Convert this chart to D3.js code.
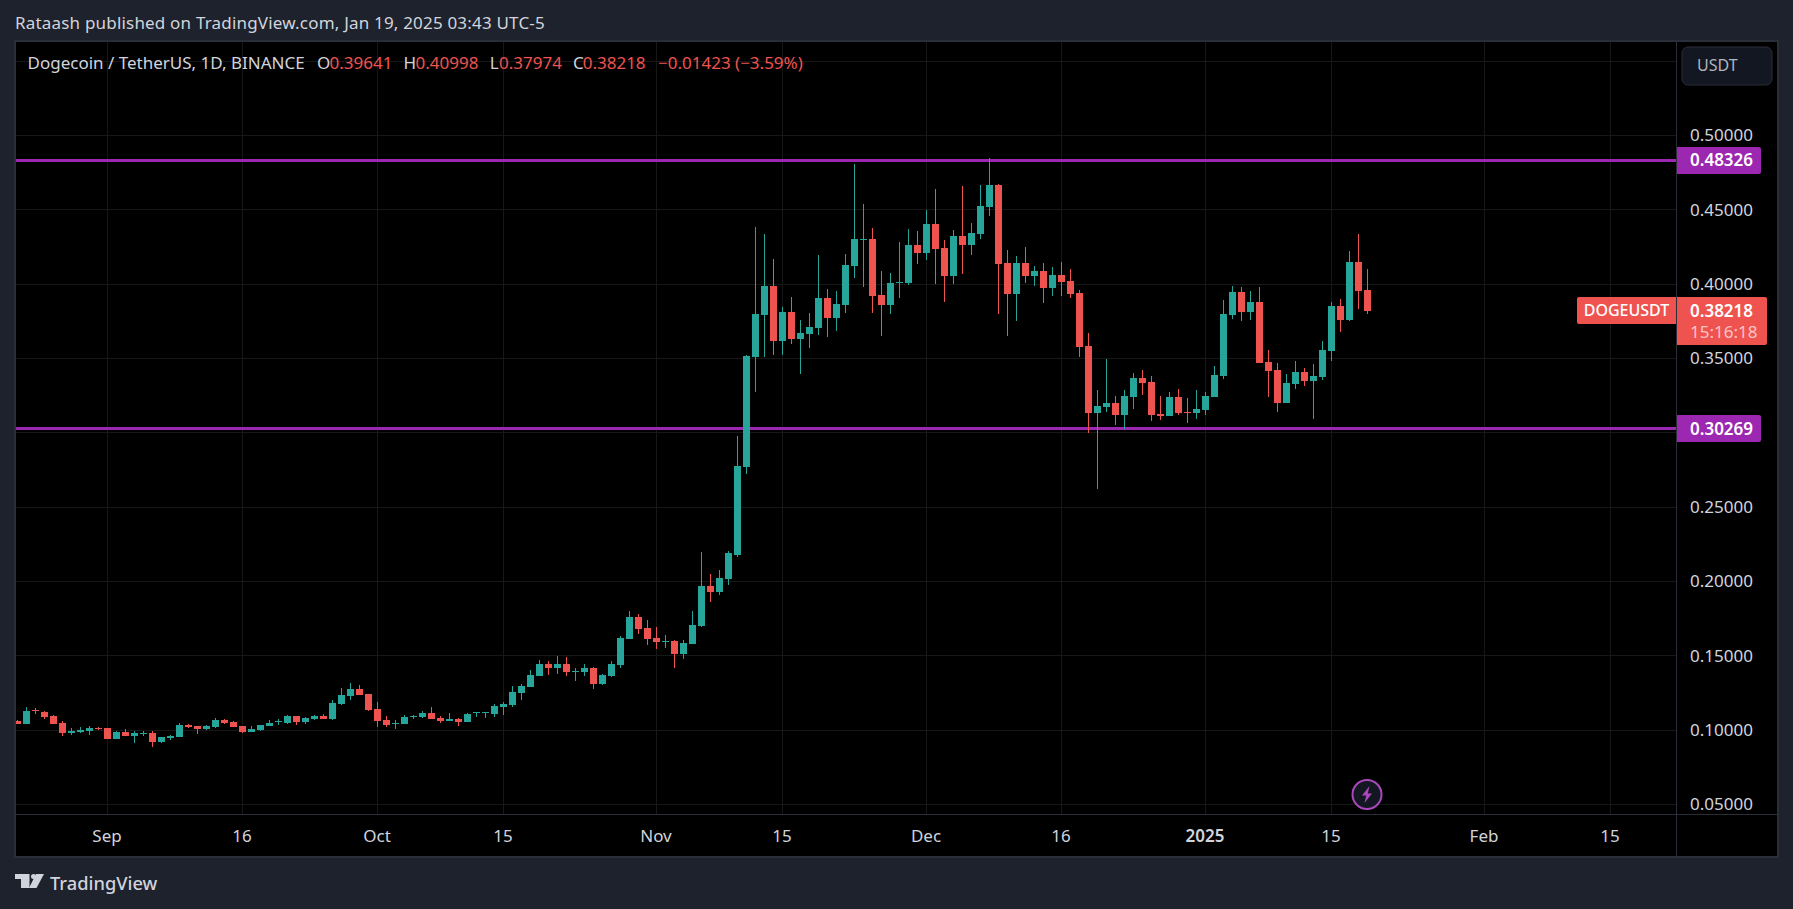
<!DOCTYPE html>
<html>
<head>
<meta charset="utf-8">
<style>
  html, body { margin: 0; padding: 0; background: #1e222d; overflow: hidden; }
  svg { display: block; }
  text { font-family: "Noto Sans", sans-serif; }
</style>
</head>
<body>
<script src="https://cdn.jsdelivr.net/npm/d3@7"></script>
<script>
// daily candles, Aug 22 2024 -> Jan 19 2025
var firstDay = new Date(Date.UTC(2024, 7, 22));
var opens = [.1063,.1043,.1134,.1123,.1096,.1049,.0982,.0989,.0996,.1016,.1016,.0942,.0989,.0962,.0978,.0982,.0922,.0948,.0955,.1036,
  .1029,.1009,.1022,.1069,.1056,.1029,.0989,.1002,.1029,.1052,.1050,.1097,.1056,.1077,.1097,.1077,.1178,.1232,.1279,.1245,
  .1144,.1070,.1045,.1043,.1090,.1090,.1117,.1083,.1063,.1077,.1056,.1115,.1113,.1110,.1158,.1171,.1253,.1293,.1367,.1442,
  .1415,.1442,.1394,.1394,.1421,.1313,.1367,.1435,.1610,.1759,.1685,.1617,.1590,.1597,.1509,.1577,.1698,.1968,.1928,.2015,
  .2179,.2773,.3509,.3793,.3989,.3618,.3813,.3631,.3665,.3705,.3908,.3773,.3860,.4124,.4299,.4306,.3928,.3860,.4009,.4009,
  .4266,.4212,.4407,.4245,.4056,.4326,.4266,.4340,.4522,.4664,.4144,.3935,.4144,.4056,.4090,.3975,.4063,.4023,.3942,.3584,
  .3132,.3172,.3199,.3118,.3240,.3368,.3341,.3125,.3111,.3240,.3138,.3132,.3152,.3240,.3381,.3793,.3948,.3813,.3881,.3476,
  .3422,.3199,.3327,.3408,.3348,.3375,.3550,.3854,.3759,.4151,.39641];
var highs = [.1069,.1157,.1150,.1130,.1103,.1063,.1016,.1022,.1029,.1022,.1016,.0996,.1009,.0996,.0996,.0996,.0955,.0969,.1049,.1043,
  .1029,.1036,.1083,.1076,.1063,.1029,.1029,.1036,.1070,.1077,.1104,.1097,.1090,.1104,.1110,.1205,.1286,.1320,.1306,.1245,
  .1191,.1097,.1070,.1104,.1104,.1131,.1158,.1097,.1117,.1083,.1117,.1124,.1124,.1178,.1191,.1300,.1313,.1408,.1469,.1462,
  .1502,.1489,.1415,.1442,.1428,.1381,.1462,.1631,.1799,.1779,.1739,.1691,.1637,.1604,.1604,.1799,.2198,.2049,.2076,.2204,
  .2982,.3522,.4387,.4340,.4171,.3847,.3915,.3759,.3807,.4198,.3969,.3955,.4205,.4806,.4536,.4380,.4090,.4077,.4286,.4374,
  .4360,.4502,.4637,.4299,.4367,.4657,.4414,.4664,.4846,.4677,.4232,.4191,.4252,.4124,.4144,.4117,.4151,.4104,.3962,.3672,
  .3287,.3496,.3246,.3287,.3402,.3422,.3381,.3246,.3273,.3294,.3233,.3287,.3273,.3449,.3894,.3989,.3982,.3955,.3982,.3557,
  .3469,.3395,.3483,.3435,.3462,.3618,.3881,.3901,.4225,.4340,.40998];
var lows = [.1043,.1043,.1110,.1076,.1043,.0964,.0969,.0982,.0969,.1002,.0942,.0942,.0962,.0915,.0962,.0888,.0915,.0935,.0955,.1016,
  .0975,.1002,.1016,.1043,.1022,.0982,.0989,.0996,.1029,.1036,.1043,.1036,.1043,.1070,.1077,.1070,.1171,.1205,.1239,.1131,
  .1023,.1023,.1009,.1043,.1077,.1083,.1077,.1050,.1063,.1029,.1056,.1090,.1083,.1090,.1104,.1158,.1205,.1293,.1367,.1374,
  .1381,.1367,.1334,.1367,.1280,.1307,.1360,.1415,.1610,.1644,.1570,.1543,.1556,.1421,.1482,.1577,.1691,.1860,.1907,.1975,
  .2165,.2726,.3272,.3510,.3523,.3523,.3597,.3395,.3570,.3658,.3645,.3685,.3807,.4043,.3982,.3807,.3651,.3800,.3908,.3996,
  .4137,.4164,.4002,.3881,.4002,.4070,.4198,.4306,.4461,.3800,.3651,.3753,.4009,.3989,.3874,.3921,.3921,.3908,.3510,.2997,
  .2619,.3138,.3050,.3024,.3158,.3253,.3078,.3084,.3111,.3118,.3064,.3091,.3118,.3240,.3361,.3766,.3753,.3759,.3469,.3240,
  .3138,.3199,.3294,.3314,.3091,.3354,.3483,.3678,.3753,.3834,.37974];
var closes = [.1043,.1130,.1128,.1090,.1043,.0982,.0996,.1002,.1016,.1009,.0942,.0989,.0962,.0982,.0982,.0922,.0955,.0962,.1036,.1022,
  .1009,.1029,.1069,.1049,.1022,.0989,.1009,.1036,.1050,.1059,.1097,.1056,.1083,.1097,.1077,.1185,.1239,.1279,.1239,.1137,
  .1063,.1036,.1050,.1090,.1097,.1117,.1077,.1063,.1077,.1056,.1110,.1121,.1119,.1164,.1178,.1259,.1300,.1374,.1442,.1415,
  .1442,.1394,.1401,.1421,.1313,.1374,.1442,.1617,.1759,.1678,.1610,.1590,.1597,.1509,.1583,.1705,.1968,.1928,.2022,.2191,
  .2780,.3515,.3800,.3989,.3618,.3813,.3631,.3672,.3712,.3908,.3773,.3867,.4131,.4306,.4306,.3921,.3860,.4009,.4016,.4266,
  .4212,.4407,.4239,.4056,.4326,.4266,.4347,.4529,.4664,.4137,.3935,.4144,.4056,.4090,.3975,.4063,.4016,.3935,.3577,.3132,
  .3179,.3199,.3118,.3246,.3368,.3334,.3118,.3111,.3240,.3132,.3132,.3158,.3246,.3388,.3800,.3948,.3813,.3881,.3469,.3415,
  .3199,.3334,.3408,.3348,.3381,.3557,.3854,.3759,.4151,.3955,.38218];

var priceGrid = [.05,.10,.15,.20,.25,.30,.35,.40,.45,.50,.55];
var priceLabels = [.05,.10,.15,.20,.25,.35,.40,.45,.50];
var timeTicks = [[2024,8,1],[2024,8,16],[2024,9,1],[2024,9,15],[2024,10,1],[2024,10,15],[2024,11,1],[2024,11,16],[2025,0,1],[2025,0,15],[2025,1,1],[2025,1,15]]
  .map(function (d) { return new Date(Date.UTC(d[0], d[1], d[2])); });
var timeLabels = ['Sep','16','Oct','15','Nov','15','Dec','16','2025','15','Feb','15'];
var levels = [0.48326, 0.30269];

var w = 1793, h = 909;
var left = 15, right = 1676, top_ = 41, axisY = 814, frameR = 1777, frameB = 856;
var green = '#26a69a', red = '#ef5350', purple = '#9c27b0', gridColor = '#171717', frameColor = '#2a2e39', labelColor = '#d1d4dc';

var svg = d3.select('body').append('svg').attr('width', w).attr('height', h);

var days = d3.range(opens.length).map(function (i) { return d3.utcDay.offset(firstDay, i); });

var xScale = d3.scaleUtc()
  .domain([timeTicks[0], timeTicks[11]])
  .range([107.5, 107.5 + 167 * 9]);
var yScale = d3.scaleLinear()
  .domain([.05, .5])
  .range([804.5, 135.5]);

function py(v) { return Math.round(yScale(v) - 0.5) + 0.5; }

// chart area
svg.append('rect').attr('x', left).attr('y', top_).attr('width', frameR - left).attr('height', frameB - top_)
  .attr('fill', '#000');

var crisp = svg.append('g').attr('shape-rendering', 'crispEdges');

// grid
crisp.selectAll('.hgrid').data(priceGrid).enter().append('line')
  .attr('class', 'hgrid')
  .attr('x1', left).attr('x2', right)
  .attr('y1', py).attr('y2', py)
  .attr('stroke', gridColor);
crisp.selectAll('.vgrid').data(timeTicks).enter().append('line')
  .attr('class', 'vgrid')
  .attr('x1', function (d) { return xScale(d); }).attr('x2', function (d) { return xScale(d); })
  .attr('y1', top_).attr('y2', axisY)
  .attr('stroke', gridColor);

svg.append('clipPath').attr('id', 'plot').append('rect')
  .attr('x', left + 1).attr('y', top_).attr('width', right - left - 1).attr('height', axisY - top_);

// level lines
crisp.selectAll('.level').data(levels).enter().append('rect')
  .attr('class', 'level')
  .attr('x', left).attr('width', right - left)
  .attr('y', function (d) { return Math.round(yScale(d) - 1.5); })
  .attr('height', 3)
  .attr('fill', purple);

// candles
var candles = crisp.append('g').attr('clip-path', 'url(#plot)')
  .selectAll('g').data(days).enter().append('g');

candles.append('rect')
  .attr('x', function (d) { return xScale(d) - 0.5; })
  .attr('width', 1)
  .attr('y', function (d, i) { return Math.round(yScale(highs[i])); })
  .attr('height', function (d, i) { return Math.max(1, Math.round(yScale(lows[i])) - Math.round(yScale(highs[i]))); })
  .attr('fill', function (d, i) { return closes[i] >= opens[i] ? green : red; });

candles.append('rect')
  .attr('x', function (d) { return xScale(d) - 3.5; })
  .attr('width', 7)
  .attr('y', function (d, i) { return Math.round(yScale(Math.max(opens[i], closes[i]))); })
  .attr('height', function (d, i) {
    return Math.max(1, Math.round(yScale(Math.min(opens[i], closes[i]))) - Math.round(yScale(Math.max(opens[i], closes[i]))));
  })
  .attr('fill', function (d, i) { return closes[i] >= opens[i] ? green : red; });

// frame + axis lines
crisp.append('rect').attr('x', left - 0.5).attr('y', top_ - 0.5).attr('width', frameR - left + 1).attr('height', frameB - top_ + 1)
  .attr('fill', 'none').attr('stroke', frameColor).attr('stroke-width', 2);
crisp.append('line').attr('x1', left).attr('x2', frameR).attr('y1', axisY + 0.5).attr('y2', axisY + 0.5).attr('stroke', frameColor);
crisp.append('line').attr('x1', right + 0.5).attr('x2', right + 0.5).attr('y1', top_).attr('y2', frameB).attr('stroke', frameColor);

// price axis
var yAxis = d3.axisRight(yScale).tickValues(priceLabels).tickFormat(d3.format('.5f')).tickSize(0).tickPadding(0);
svg.append('g').attr('transform', 'translate(1690,0)').call(yAxis)
  .call(function (g) { g.select('.domain').remove(); })
  .selectAll('text').attr('font-size', 17).attr('fill', labelColor).attr('font-family', '"Noto Sans", sans-serif');

// time axis
var xAxis = d3.axisBottom(xScale).tickValues(timeTicks)
  .tickFormat(function (d, i) { return timeLabels[i]; }).tickSize(0).tickPadding(0);
svg.append('g').attr('transform', 'translate(-1,830)').call(xAxis)
  .call(function (g) { g.select('.domain').remove(); })
  .selectAll('text').attr('font-size', 17).attr('fill', labelColor).attr('font-family', '"Noto Sans", sans-serif')
  .attr('font-weight', function (d, i) { return timeLabels[i] === '2025' ? 600 : 400; });

// price tags
function tag(x, y, tw, th, color, rx, leftRound) {
  var path = leftRound
    ? 'M' + (x + tw) + ' ' + y + 'H' + (x + rx) + 'Q' + x + ' ' + y + ' ' + x + ' ' + (y + rx) + 'V' + (y + th - rx) + 'Q' + x + ' ' + (y + th) + ' ' + (x + rx) + ' ' + (y + th) + 'H' + (x + tw) + 'Z'
    : 'M' + x + ' ' + y + 'H' + (x + tw - rx) + 'Q' + (x + tw) + ' ' + y + ' ' + (x + tw) + ' ' + (y + rx) + 'V' + (y + th - rx) + 'Q' + (x + tw) + ' ' + (y + th) + ' ' + (x + tw - rx) + ' ' + (y + th) + 'H' + x + 'Z';
  svg.append('path').attr('d', path).attr('fill', color);
}
function label(x, y, str, opts) {
  opts = opts || {};
  return svg.append('text').attr('x', x).attr('y', y).attr('dy', '.35em')
    .attr('font-size', opts.size || 17).attr('font-weight', opts.weight || 400)
    .attr('text-anchor', opts.anchor || 'start')
    .attr('fill', opts.fill || labelColor).text(str);
}

levels.forEach(function (v) {
  var cy = yScale(v);
  tag(1677, Math.round(cy - 13.5), 84, 27, purple, 2, false);
  label(1690, cy, d3.format('.5f')(v), { fill: '#fff', weight: 600 });
});

tag(1677, 297, 90, 48, red, 2, false);
label(1690, 311, '0.38218', { fill: '#fff', weight: 600 });
label(1690, 332, '15:16:18', { fill: '#fbc5c4', weight: 400 });
tag(1577, 297, 99, 27, red, 2, true);
label(1626.5, 310.5, 'DOGEUSDT', { fill: '#fff', anchor: 'middle', weight: 500, size: 16 });

// currency button
svg.append('rect').attr('x', 1682).attr('y', 47).attr('width', 90).attr('height', 38).attr('rx', 6)
  .attr('fill', '#131722').attr('stroke', frameColor).attr('stroke-width', 1);
label(1697, 65.5, 'USDT', { fill: '#b2b5be', size: 16 });

// header and legend
label(15, 23.5, 'Rataash published on TradingView.com, Jan 19, 2025 03:43 UTC-5', { fill: '#d1d4dc' }).attr('letter-spacing', 0.19);
label(27.5, 63, 'Dogecoin / TetherUS, 1D, BINANCE', { fill: '#d1d4dc' });
[[317, 'O', 329.5, '0.39641'], [403.5, 'H', 415.6, '0.40998'], [489.7, 'L', 499, '0.37974'], [573, 'C', 582.7, '0.38218']]
  .forEach(function (d) {
    label(d[0], 63, d[1], { fill: '#d1d4dc' });
    label(d[2], 63, d[3], { fill: red });
  });
label(658, 63, '\u22120.01423 (\u22123.59%)', { fill: red });

// lightning badge
var badge = svg.append('g').attr('transform', 'translate(1367,794.5)');
badge.append('circle').attr('r', 14.5).attr('fill', '#131722').attr('stroke', '#ab47bc').attr('stroke-width', 2);
badge.append('path').attr('d', 'M2.5 -8.5 L-5 1 H-0.8 L-2.5 8.5 L5 -1 H0.8 Z').attr('fill', '#ab47bc');

// TradingView logo
var logo = svg.append('g').attr('transform', 'translate(15,874)').attr('fill', '#d1d4dc');
logo.append('path').attr('d', 'M0 0H14.5V14H6V5H0Z');
logo.append('circle').attr('cx', 18.5).attr('cy', 2.5).attr('r', 2.5);
logo.append('path').attr('d', 'M21 0H29L21.5 14H14Z');
label(50, 884, 'TradingView', { fill: '#d1d4dc', size: 18.3, weight: 500 });
</script>
</body>
</html>
